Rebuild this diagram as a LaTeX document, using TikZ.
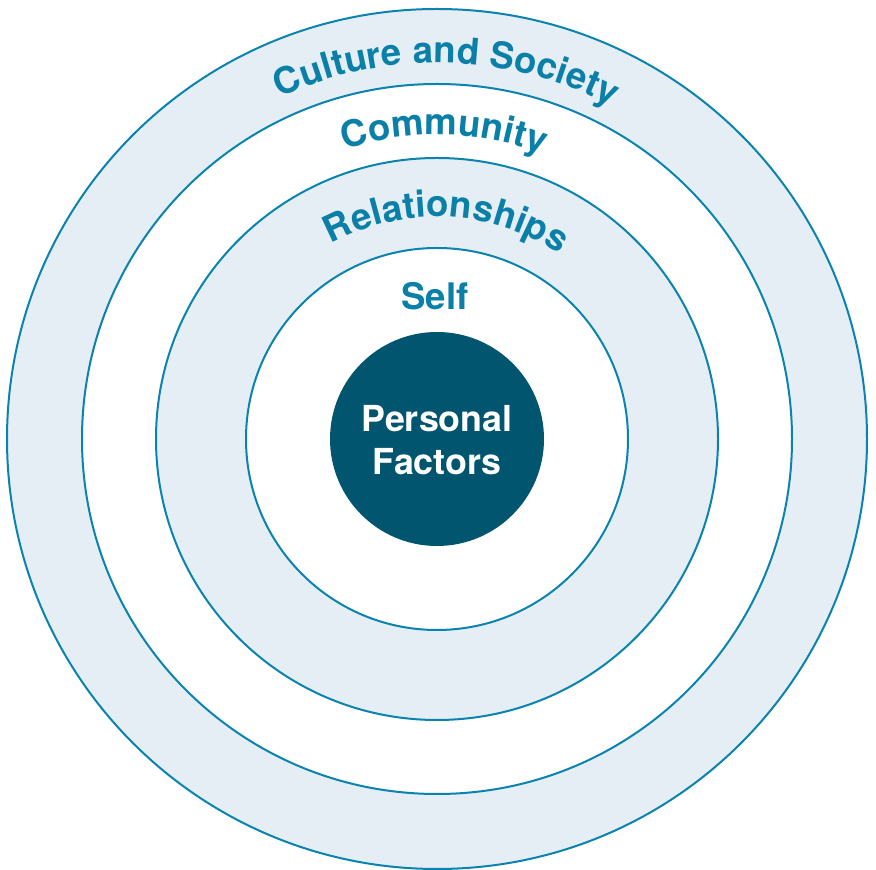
\documentclass[tikz,border=0pt]{standalone}
\usepackage{fontspec}
\setmainfont{TeX Gyre Heros}
\usetikzlibrary{decorations.text}
\definecolor{ringline}{HTML}{0A84AE}
\definecolor{ringfill}{HTML}{E6EEF5}
\definecolor{coredark}{HTML}{01556F}
\definecolor{labeltext}{HTML}{0A80A8}
\newcommand{\lblfont}{\bfseries\fontsize{36.6}{36.6}\selectfont}
\begin{document}
\begin{tikzpicture}[x=1pt,y=1pt,
  ring/.style={circle, draw=ringline, line width=2pt, inner sep=0pt, outer sep=0pt},
  shaded/.style={ring, fill=ringfill},
  plain/.style={ring, fill=white},
  arclabel/.style={decorate, decoration={text along path, text align=center, text color=labeltext,
     text={|\lblfont\color{labeltext}|#1}}},
  corelabel/.style={anchor=base, text=white, font=\bfseries\fontsize{35.8}{35.8}\selectfont, inner sep=0pt}
]
\useasboundingbox (0,0) rectangle (876,870);
\fill[white] (0,0) rectangle (876,870);
\coordinate (c) at (437,431);
\node[shaded, minimum size=860] (culture) at (c) {};
\node[plain, minimum size=710] (community) at (c) {};
\node[shaded, minimum size=562] (relationships) at (c) {};
\node[plain, minimum size=382] (self) at (c) {};
\node[circle, fill=coredark, minimum size=214, inner sep=0pt] (core) at (c) {};
% arc labels
\path[arclabel={Culture and Society}] ([shift={(c)}]148.5:376) arc[start angle=148.5, end angle=28.5, radius=376];
\path[arclabel={Community}] ([shift={(c)}]148.7:304) arc[start angle=148.7, end angle=28.7, radius=304];
\path[arclabel={Relationships}] ([shift={(c)}]147.5:222) arc[start angle=147.5, end angle=27.5, radius=222];
\node[anchor=base, inner sep=0pt, text=labeltext, font=\lblfont] (selflabel) at (435,560) {Self};
\node[corelabel] (personal) at (437,438) {Personal};
\node[corelabel] (factors) at (437,395) {Factors};
\end{tikzpicture}
\end{document}
